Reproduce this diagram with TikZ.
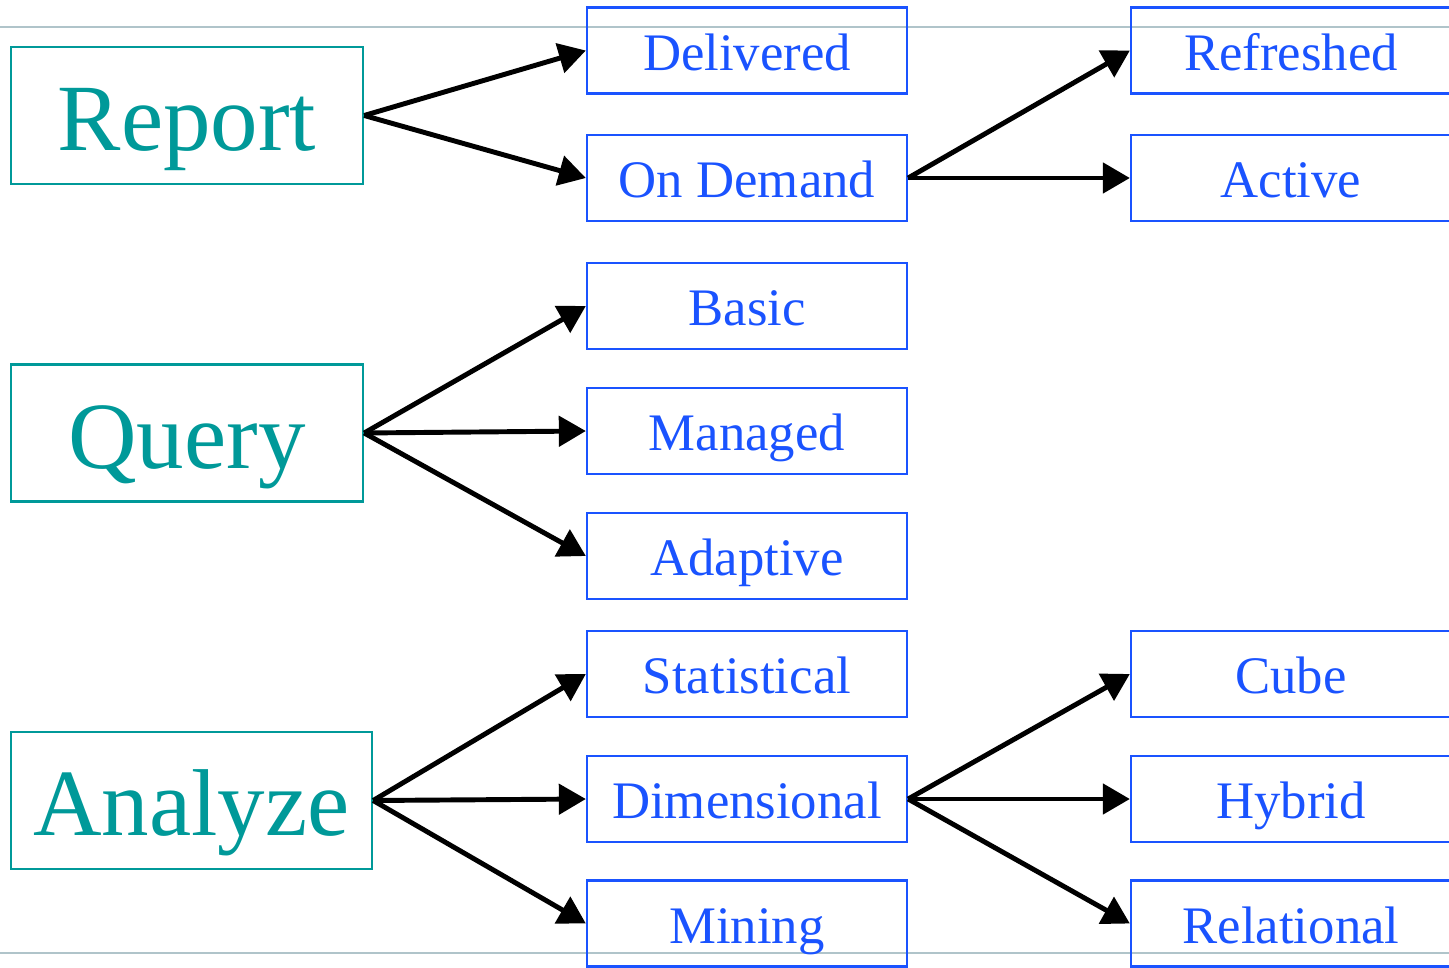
\documentclass[tikz,border=0pt]{standalone}
\usepackage{fontspec}
\setmainfont{Liberation Serif}
\usepackage{tikz}
\usetikzlibrary{arrows.meta}

\definecolor{tealc}{RGB}{0,153,153}
\definecolor{bluec}{RGB}{26,83,255}
\definecolor{rulec}{RGB}{176,196,202}

\tikzset{
  mainbox/.style={rectangle, draw=tealc, text=tealc, line width=0.6pt,
    minimum height=1.37cm, inner sep=0pt,
    font=\fontsize{27}{27}\selectfont, text height=20pt, text depth=0pt},
  subbox/.style={rectangle, draw=bluec, text=bluec, line width=0.6pt,
    minimum width=3.2cm, minimum height=0.86cm, inner sep=0pt,
    font=\fontsize{15}{15}\selectfont, text height=11.2pt, text depth=0pt},
  arr/.style={line width=1.4pt, -{Triangle[length=0.27cm, width=0.3cm]}}
}

\begin{document}
\begin{tikzpicture}[x=0.01cm, y=-0.01cm]

\clip (0,0) rectangle (1449,967);

% rules
\draw[rulec, line width=0.5pt] (0,27) -- (1449,27);
\draw[rulec, line width=0.5pt] (0,953) -- (1449,953);

% left column
\node[mainbox, minimum width=3.52cm] (rep) at (187,115.5) {Report};
\node[mainbox, minimum width=3.52cm] (qry) at (187,433) {Query};
\node[mainbox, minimum width=3.61cm] (ana) at (191.5,800.5) {Analyze};

% middle column
\node[subbox] (r1) at (747,50.5) {Delivered};
\node[subbox] (r2) at (747,178) {On Demand};

\node[subbox] (q1) at (747,306) {Basic};
\node[subbox] (q2) at (747,431) {Managed};
\node[subbox] (q3) at (747,556) {Adaptive};

\node[subbox] (a1) at (747,674) {Statistical};
\node[subbox] (a2) at (747,799) {Dimensional};
\node[subbox] (a3) at (747,923.5) {Mining};

% right column
\node[subbox] (t1) at (1291,50.5) {Refreshed};
\node[subbox] (t2) at (1291,178) {Active};

\node[subbox] (u1) at (1291,674) {Cube};
\node[subbox] (u2) at (1291,799) {Hybrid};
\node[subbox] (u3) at (1291,923.5) {Relational};

% arrows
\draw[arr] (rep.east) -- (r1.west);
\draw[arr] (rep.east) -- (r2.west);
\draw[arr] (r2.east) -- (t1.west);
\draw[arr] (r2.east) -- (t2.west);

\draw[arr] (qry.east) -- (q1.west);
\draw[arr] (qry.east) -- (q2.west);
\draw[arr] (qry.east) -- (q3.west);

\draw[arr] (ana.east) -- (a1.west);
\draw[arr] (ana.east) -- (a2.west);
\draw[arr] (ana.east) -- (a3.west);
\draw[arr] (a2.east) -- (u1.west);
\draw[arr] (a2.east) -- (u2.west);
\draw[arr] (a2.east) -- (u3.west);

\end{tikzpicture}
\end{document}
